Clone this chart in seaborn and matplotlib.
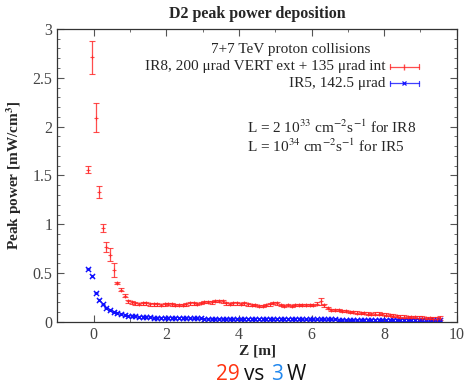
import numpy as np
import pandas as pd
import matplotlib
matplotlib.use("Agg")
import matplotlib.pyplot as plt
import seaborn as sns
from matplotlib.ticker import MultipleLocator

z = [-0.15, -0.05, 0.05, 0.15, 0.25, 0.35, 0.45, 0.55, 0.65, 0.75,
     0.85, 0.95, 1.05, 1.15, 1.25, 1.35, 1.45, 1.55, 1.65, 1.75,
     1.85, 1.95, 2.05, 2.15, 2.25, 2.35, 2.45, 2.55, 2.65, 2.75,
     2.85, 2.95, 3.05, 3.15, 3.25, 3.35, 3.45, 3.55, 3.65, 3.75,
     3.85, 3.95, 4.05, 4.15, 4.25, 4.35, 4.45, 4.55, 4.65, 4.75,
     4.85, 4.95, 5.05, 5.15, 5.25, 5.35, 5.45, 5.55, 5.65, 5.75,
     5.85, 5.95, 6.05, 6.15, 6.25, 6.35, 6.45, 6.55, 6.65, 6.75,
     6.85, 6.95, 7.05, 7.15, 7.25, 7.35, 7.45, 7.55, 7.65, 7.75,
     7.85, 7.95, 8.05, 8.15, 8.25, 8.35, 8.45, 8.55, 8.65, 8.75,
     8.85, 8.95, 9.05, 9.15, 9.25, 9.35, 9.45, 9.55]

ir8 = [1.56, 2.71, 2.09, 1.33, 0.96, 0.77, 0.69, 0.53, 0.40, 0.33,
       0.27, 0.21, 0.20, 0.19, 0.185, 0.19, 0.19, 0.18, 0.18, 0.18,
       0.175, 0.18, 0.185, 0.18, 0.175, 0.17, 0.175, 0.18, 0.19, 0.19,
       0.185, 0.195, 0.205, 0.205, 0.20, 0.215, 0.215, 0.21, 0.19, 0.185,
       0.19, 0.19, 0.185, 0.19, 0.18, 0.175, 0.17, 0.16, 0.16, 0.17,
       0.18, 0.195, 0.19, 0.175, 0.165, 0.17, 0.165, 0.17, 0.17, 0.17,
       0.17, 0.17, 0.175, 0.185, 0.21, 0.17, 0.14, 0.125, 0.12, 0.12,
       0.115, 0.11, 0.10, 0.10, 0.095, 0.09, 0.09, 0.085, 0.08, 0.085,
       0.085, 0.08, 0.075, 0.07, 0.065, 0.06, 0.055, 0.055, 0.05, 0.05,
       0.05, 0.045, 0.045, 0.04, 0.04, 0.035, 0.035, 0.04]

ir8_err = [0.04, 0.17, 0.15, 0.06, 0.04, 0.05, 0.07, 0.07, 0.012, 0.015,
           0.015, 0.012, 0.012, 0.012, 0.012, 0.012, 0.012, 0.012, 0.012, 0.012,
           0.012, 0.012, 0.012, 0.012, 0.012, 0.012, 0.012, 0.012, 0.012, 0.012,
           0.012, 0.012, 0.012, 0.012, 0.012, 0.012, 0.012, 0.012, 0.012, 0.012,
           0.012, 0.012, 0.012, 0.012, 0.012, 0.012, 0.012, 0.012, 0.012, 0.012,
           0.012, 0.012, 0.012, 0.012, 0.012, 0.012, 0.012, 0.012, 0.012, 0.012,
           0.012, 0.012, 0.012, 0.015, 0.035, 0.015, 0.012, 0.012, 0.012, 0.012,
           0.012, 0.012, 0.012, 0.012, 0.012, 0.012, 0.012, 0.012, 0.012, 0.012,
           0.012, 0.012, 0.012, 0.012, 0.012, 0.012, 0.012, 0.012, 0.012, 0.012,
           0.012, 0.012, 0.012, 0.012, 0.012, 0.012, 0.012, 0.02]

ir5 = [0.545, 0.47, 0.30, 0.225, 0.18, 0.146, 0.12, 0.10, 0.09, 0.08,
       0.072, 0.065, 0.06, 0.056, 0.052, 0.05, 0.048, 0.046, 0.045, 0.044,
       0.043, 0.042, 0.041, 0.040, 0.040, 0.039, 0.038, 0.038, 0.037, 0.037,
       0.036, 0.036, 0.035, 0.035, 0.035, 0.034, 0.034, 0.034, 0.033, 0.033,
       0.033, 0.032, 0.032, 0.032, 0.031, 0.031, 0.031, 0.030, 0.030, 0.030,
       0.030, 0.029, 0.029, 0.029, 0.029, 0.028, 0.028, 0.028, 0.028, 0.027,
       0.027, 0.027, 0.027, 0.026, 0.026, 0.026, 0.025, 0.025, 0.025, 0.024,
       0.024, 0.024, 0.023, 0.023, 0.023, 0.022, 0.022, 0.022, 0.021, 0.021,
       0.021, 0.020, 0.020, 0.020, 0.019, 0.019, 0.019, 0.018, 0.018, 0.018,
       0.017, 0.017, 0.017, 0.016, 0.016, 0.016, 0.015, 0.015]
ir5_err = [0.008] * len(ir5)

label_ir8 = "IR8, 200 μrad VERT ext + 135 μrad int"
label_ir5 = "IR5, 142.5 μrad"
legend_title = "7+7 TeV proton collisions"
caption_parts = ["29", "vs", "3", "W"]
caption_colors = ["#ff3311", "#111111", "#2288ee", "#111111"]

sns.set_style("ticks")
plt.rcParams['font.family'] = ['Liberation Serif', 'DejaVu Serif']
plt.rcParams['mathtext.fontset'] = 'stix'

fig = plt.figure(figsize=(4.67, 3.86), dpi=100)
ax = fig.add_axes([0.123, 0.166, 0.855, 0.759])

red = "#ff2020"
blue = "#1010ff"

df8 = pd.DataFrame({"z": z, "p": ir8, "e": ir8_err})
df5 = pd.DataFrame({"z": z, "p": ir5, "e": ir5_err})

ax.errorbar(df8["z"], df8["p"], yerr=df8["e"], fmt='+', color=red, ms=3,
            elinewidth=0.9, capsize=2, capthick=0.9, alpha=0.8, mew=0.8)
ax.errorbar(df5["z"], df5["p"], yerr=df5["e"], fmt='none', color=blue,
            elinewidth=0.8, capsize=1.5, capthick=0.8, alpha=0.8)
sns.scatterplot(data=df5, x="z", y="p", marker='x', color=blue, s=14,
                linewidth=1.0, ax=ax, legend=False)

ax.set_xlim(-1, 10)
ax.set_ylim(0, 3)
ax.xaxis.set_major_locator(MultipleLocator(2))
ax.xaxis.set_minor_locator(MultipleLocator(1))
ax.yaxis.set_major_locator(MultipleLocator(0.5))
ax.yaxis.set_minor_locator(MultipleLocator(0.1))
ax.tick_params(which='both', direction='in', top=True, right=True,
               colors='#555555', labelsize=11.5, labelcolor='#444444')
ax.tick_params(which='major', length=5, width=0.8)
ax.tick_params(which='minor', length=2.5, width=0.6)
for s in ax.spines.values():
    s.set_color('#333333')
    s.set_linewidth(0.9)
ax.set_xticks(ax.get_xticks())
ax.set_xticklabels([f"{int(t)}" for t in ax.get_xticks()])
ax.set_yticks(ax.get_yticks())
ax.set_yticklabels([f"{t:g}" for t in ax.get_yticks()])
ax.set_xlim(-1, 10)
ax.set_ylim(0, 3)

ax.set_xlabel("Z [m]", fontsize=11, fontweight='bold', labelpad=1)
ax.set_ylabel("Peak power [mW/cm$^\\mathbf{3}$]", fontsize=11, fontweight='bold', labelpad=6)
ax.set_title("D2 peak power deposition", fontsize=11.5, fontweight='bold', pad=8)

# Legend (manual, gnuplot style)
tr = ax.transAxes
ax.text(0.585, 0.929, legend_title, transform=tr, ha='center', va='center', fontsize=11)
ax.text(0.822, 0.871, label_ir8, transform=tr, ha='right', va='center', fontsize=11)
ax.text(0.822, 0.814, label_ir5, transform=tr, ha='right', va='center', fontsize=11)
ax.plot([0.833, 0.905], [0.871, 0.871], transform=tr, color=red, lw=0.9, alpha=0.8)
ax.plot([0.833, 0.833], [0.862, 0.880], transform=tr, color=red, lw=0.9, alpha=0.8)
ax.plot([0.905, 0.905], [0.862, 0.880], transform=tr, color=red, lw=0.9, alpha=0.8)
ax.plot([0.869], [0.871], transform=tr, color=red, marker='|', ms=4, alpha=0.8)
ax.plot([0.833, 0.905], [0.814, 0.814], transform=tr, color=blue, lw=0.9, alpha=0.8)
ax.plot([0.833, 0.833], [0.805, 0.823], transform=tr, color=blue, lw=0.9, alpha=0.8)
ax.plot([0.905, 0.905], [0.805, 0.823], transform=tr, color=blue, lw=0.9, alpha=0.8)
ax.plot([0.869], [0.814], transform=tr, color=blue, marker='x', ms=3, mew=0.9)

ax.text(0.475, 0.664, "L = 2 10$^{33}$ cm$^{-2}$s$^{-1}$ for IR8", transform=tr,
        ha='left', va='center', fontsize=11)
ax.text(0.475, 0.598, "L = 10$^{34}$ cm$^{-2}$s$^{-1}$ for IR5", transform=tr,
        ha='left', va='center', fontsize=11)

# Bottom caption
cap_font = ['Open Sans', 'DejaVu Sans']
cap_x = [216, 244, 271, 287]
yc = 1 - 374 / 386.0
for t, c, xp in zip(caption_parts, caption_colors, cap_x):
    fig.text(xp / 467.0, yc, t, fontsize=15, family=cap_font, color=c,
             ha='left', va='center')

fig.savefig("out.png", dpi=100)
